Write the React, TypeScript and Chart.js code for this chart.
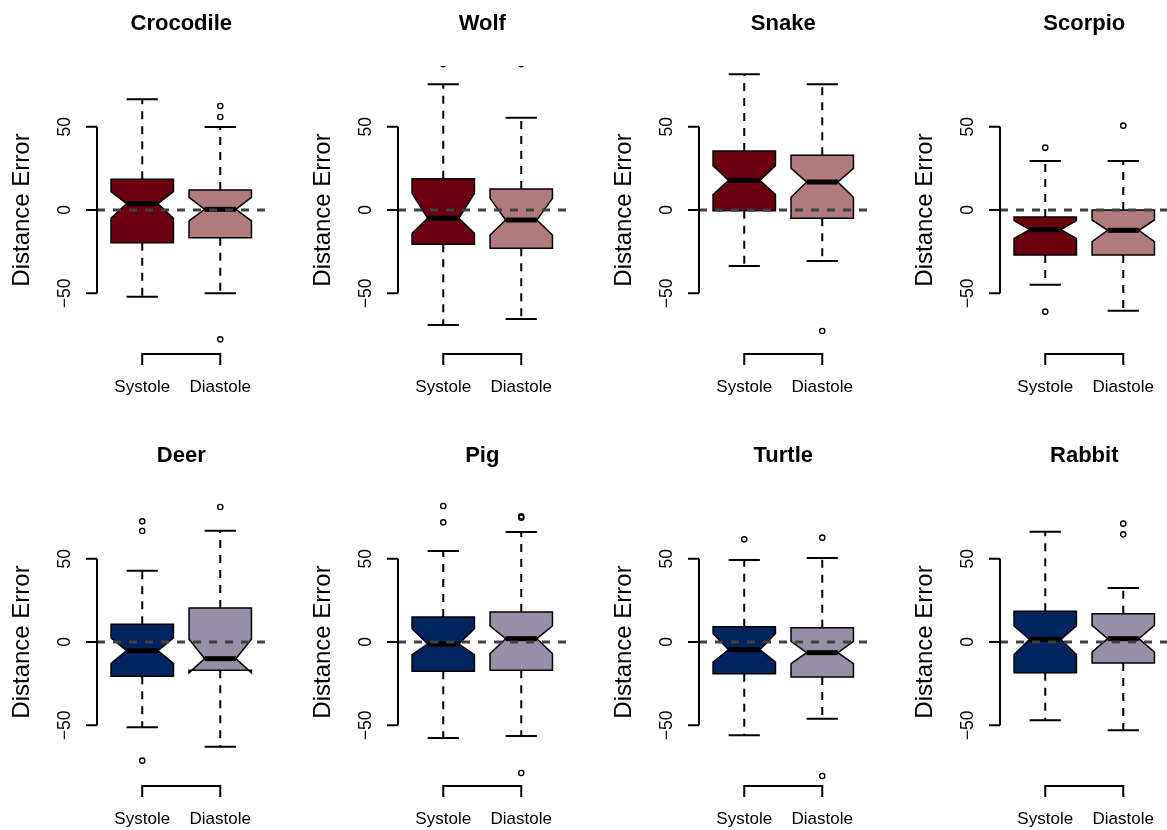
import { useEffect, useRef } from "react";
import { Chart, registerables } from "chart.js";
Chart.register(...registerables);

const panels = ["Crocodile", "Wolf", "Snake", "Scorpio", "Deer", "Pig", "Turtle", "Rabbit"];
const groups = ["Systole", "Diastole"];
const yTicks = [-50, 0, 50];
const yTickLabels = ["\u221250", "0", "50"];
const yTitle = "Distance Error";

// Systole statistics per panel
const sysWhiskerLow = [-52, -69, -33.6, -44.8, -51.2, -57.6, -56, -47];
const sysQ1 = [-19.6, -20.6, -0.4, -27, -20.6, -17.6, -19, -18.4];
const sysNotchLow = [-5, -14, 9.2, -17, -12.8, -7.6, -12, -7.6];
const sysMedian = [3.8, -5, 17.8, -11.8, -5.2, -1.2, -4.6, 1.6];
const sysNotchHigh = [11, 10, 26.6, -6.4, 2.4, 8, 5, 9.6];
const sysQ3 = [18.4, 18.8, 35.4, -4.2, 10.6, 15, 9.2, 18.4];
const sysWhiskerHigh = [66.4, 75.4, 81.4, 29.4, 42.8, 54.6, 49.2, 66.2];
const sysOutliers = [[], [87.5], [], [37.4, -61], [72.4, 66.6, -71.2], [81.6, 71.8], [61.6], []];

// Diastole statistics per panel
const diaWhiskerLow = [-50, -65.4, -30.6, -60.4, -62.8, -56.4, -46, -53];
const diaQ1 = [-16.6, -23, -5, -27, -17, -17, -21, -12.6];
const diaNotchLow = [-6.6, -15, 7.6, -19, -18.5, -7, -13, -6];
const diaMedian = [0.4, -6, 16.8, -12.2, -10, 2, -6.4, 2];
const diaNotchHigh = [7.6, 7, 25, -6, 1.6, 9.6, 0.4, 10];
const diaQ3 = [12, 12.6, 32.8, 0, 20.4, 18, 8.6, 17];
const diaWhiskerHigh = [49.8, 55.4, 75.4, 29.4, 66.8, 66, 50.4, 32.4];
const diaOutliers = [[62.4, 55.8, -77.6], [87.5], [-72.6], [50.6], [81], [75.4, 74.6, -78.6], [62.6, -80.4], [71, 64.6]];

const sysColors = ["#6b0010", "#6b0010", "#6b0010", "#6b0010", "#02245f", "#02245f", "#02245f", "#02245f"];
const diaColors = ["#b07b7e", "#b07b7e", "#b07b7e", "#b07b7e", "#968fa6", "#968fa6", "#968fa6", "#968fa6"];

const FONT = '"Liberation Sans", Arial, Helvetica, sans-serif';
const PANEL_W = 301;
const PANEL_H = 432;

function makePlugin(p: number) {
  const stats = [
    {
      wl: sysWhiskerLow[p], q1: sysQ1[p], nl: sysNotchLow[p], med: sysMedian[p],
      nh: sysNotchHigh[p], q3: sysQ3[p], wh: sysWhiskerHigh[p], fill: sysColors[p],
    },
    {
      wl: diaWhiskerLow[p], q1: diaQ1[p], nl: diaNotchLow[p], med: diaMedian[p],
      nh: diaNotchHigh[p], q3: diaQ3[p], wh: diaWhiskerHigh[p], fill: diaColors[p],
    },
  ];
  return {
    id: "boxplot" + p,
    beforeDatasetsDraw(chart: any) {
      const ctx = chart.ctx;
      const xs = chart.scales.x;
      const ys = chart.scales.y;
      stats.forEach((s, g) => {
        const xv = g + 1;
        const cx = xs.getPixelForValue(xv);
        const w = xs.getPixelForValue(xv + 0.4) - cx;
        const sw = xs.getPixelForValue(xv + 0.2) - cx;
        const Y = (v: number) => ys.getPixelForValue(v);
        ctx.save();
        // whiskers
        ctx.strokeStyle = "#000";
        ctx.lineWidth = 2;
        ctx.setLineDash([8, 7]);
        ctx.beginPath();
        ctx.moveTo(cx, Y(s.q3));
        ctx.lineTo(cx, Y(s.wh));
        ctx.moveTo(cx, Y(s.q1));
        ctx.lineTo(cx, Y(s.wl));
        ctx.stroke();
        ctx.setLineDash([]);
        // staples
        ctx.beginPath();
        ctx.moveTo(cx - sw, Y(s.wh));
        ctx.lineTo(cx + sw, Y(s.wh));
        ctx.moveTo(cx - sw, Y(s.wl));
        ctx.lineTo(cx + sw, Y(s.wl));
        ctx.stroke();
        // notched box
        ctx.beginPath();
        ctx.moveTo(cx - w, Y(s.q1));
        ctx.lineTo(cx + w, Y(s.q1));
        ctx.lineTo(cx + w, Y(s.nl));
        ctx.lineTo(cx + w / 2, Y(s.med));
        ctx.lineTo(cx + w, Y(s.nh));
        ctx.lineTo(cx + w, Y(s.q3));
        ctx.lineTo(cx - w, Y(s.q3));
        ctx.lineTo(cx - w, Y(s.nh));
        ctx.lineTo(cx - w / 2, Y(s.med));
        ctx.lineTo(cx - w, Y(s.nl));
        ctx.closePath();
        ctx.fillStyle = s.fill;
        ctx.fill();
        ctx.lineWidth = 1.5;
        ctx.lineJoin = "miter";
        ctx.stroke();
        // median
        ctx.lineWidth = 5;
        ctx.beginPath();
        ctx.moveTo(cx - w / 2, Y(s.med));
        ctx.lineTo(cx + w / 2, Y(s.med));
        ctx.stroke();
        ctx.restore();
      });
    },
    afterDatasetsDraw(chart: any) {
      const ctx = chart.ctx;
      const xs = chart.scales.x;
      const ys = chart.scales.y;
      const area = chart.chartArea;
      ctx.save();
      // dashed zero reference line
      ctx.beginPath();
      ctx.rect(area.left, area.top, area.right - area.left, area.bottom - area.top);
      ctx.clip();
      ctx.strokeStyle = "#404040";
      ctx.lineWidth = 3;
      ctx.setLineDash([8, 8]);
      ctx.beginPath();
      ctx.moveTo(area.left, ys.getPixelForValue(0));
      ctx.lineTo(area.right, ys.getPixelForValue(0));
      ctx.stroke();
      ctx.restore();

      ctx.save();
      ctx.strokeStyle = "#000";
      ctx.fillStyle = "#000";
      ctx.lineWidth = 2;
      // y axis
      const yTop = ys.getPixelForValue(yTicks[yTicks.length - 1]);
      const yBot = ys.getPixelForValue(yTicks[0]);
      ctx.beginPath();
      ctx.moveTo(area.left, yTop);
      ctx.lineTo(area.left, yBot);
      yTicks.forEach((t) => {
        const py = ys.getPixelForValue(t);
        ctx.moveTo(area.left, py);
        ctx.lineTo(area.left - 11, py);
      });
      ctx.stroke();
      ctx.font = `17.5px ${FONT}`;
      ctx.textAlign = "center";
      ctx.textBaseline = "middle";
      yTicks.forEach((t, i) => {
        const py = ys.getPixelForValue(t);
        ctx.save();
        ctx.translate(area.left - 32, py);
        ctx.rotate(-Math.PI / 2);
        ctx.fillText(yTickLabels[i], 0, 0);
        ctx.restore();
      });
      // y title
      ctx.font = `24px ${FONT}`;
      ctx.save();
      ctx.translate(area.left - 75, (area.top + area.bottom) / 2);
      ctx.rotate(-Math.PI / 2);
      ctx.fillText(yTitle, 0, 0);
      ctx.restore();
      // x axis bracket
      const x1 = xs.getPixelForValue(1);
      const x2 = xs.getPixelForValue(2);
      ctx.beginPath();
      ctx.moveTo(x1, area.bottom + 11);
      ctx.lineTo(x1, area.bottom);
      ctx.lineTo(x2, area.bottom);
      ctx.lineTo(x2, area.bottom + 11);
      ctx.stroke();
      ctx.font = `17px ${FONT}`;
      groups.forEach((gname, g) => {
        ctx.fillText(gname, xs.getPixelForValue(g + 1), area.bottom + 33);
      });
      // title
      ctx.font = `bold 22px ${FONT}`;
      ctx.fillText(panels[p], (area.left + area.right) / 2, area.top - 42);
      ctx.restore();
    },
  };
}

function Panel({ index }: { index: number }) {
  const ref = useRef<HTMLCanvasElement | null>(null);
  useEffect(() => {
    if (!ref.current) return;
    const pts = [
      ...sysOutliers[index].map((v) => ({ x: 1, y: v })),
      ...diaOutliers[index].map((v) => ({ x: 2, y: v })),
    ];
    const chart = new Chart(ref.current, {
      type: "scatter",
      data: {
        datasets: [
          {
            data: pts,
            pointRadius: 2.6,
            pointBorderWidth: 1.4,
            pointBackgroundColor: "rgba(0,0,0,0)",
            pointBorderColor: "#000",
            clip: 0,
          } as any,
        ],
      },
      options: {
        responsive: false,
        animation: false,
        devicePixelRatio: 1,
        events: [],
        layout: { padding: { left: 97, top: 66, right: 35.5, bottom: 78 } },
        plugins: { legend: { display: false }, tooltip: { enabled: false } },
        scales: {
          x: { type: "linear", min: 0.42, max: 2.58, display: false },
          y: { type: "linear", min: -86.4, max: 86.4, display: false },
        },
      },
      plugins: [makePlugin(index)],
    });
    return () => chart.destroy();
  }, [index]);
  const col = index % 4;
  const row = Math.floor(index / 4);
  return (
    <canvas
      ref={ref}
      width={PANEL_W}
      height={PANEL_H}
      style={{ position: "absolute", left: col * PANEL_W, top: row * PANEL_H, width: PANEL_W, height: PANEL_H }}
    />
  );
}

export default function App() {
  return (
    <div
      style={{
        position: "absolute",
        left: 0,
        top: 0,
        width: 1167,
        height: 830,
        overflow: "hidden",
        background: "#fff",
      }}
    >
      {panels.map((_, i) => (
        <Panel key={i} index={i} />
      ))}
    </div>
  );
}
